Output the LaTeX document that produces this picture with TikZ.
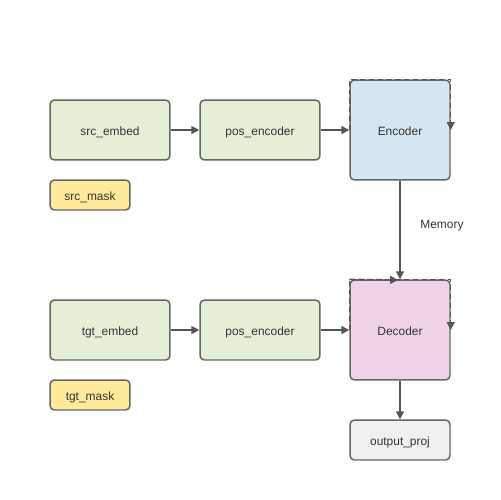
\documentclass[tikz,border=0pt]{standalone}
\usepackage{fontspec}
\setmainfont{Liberation Sans}
\usetikzlibrary{arrows.meta}
\definecolor{boxgreen}{RGB}{228,239,213}
\definecolor{boxyellow}{RGB}{255,234,155}
\definecolor{boxblue}{RGB}{213,230,242}
\definecolor{boxpink}{RGB}{241,211,231}
\definecolor{boxgray}{RGB}{240,240,240}
\definecolor{edgegray}{RGB}{102,102,102}
\definecolor{linegray}{RGB}{85,85,85}
\definecolor{textgray}{RGB}{51,51,51}
\tikzset{
  box/.style={
    draw=edgegray,
    line width=0.85pt,
    rounded corners=2.5pt,
    text=textgray,
    font=\fontsize{6.8}{8}\selectfont,
    text height=1.25ex,
    text depth=0pt,
    inner sep=0pt
  },
  box-layer/.style={box, fill=boxgreen, minimum width=2.4cm, minimum height=1.2cm},
  box-mask/.style={box, fill=boxyellow, minimum width=1.6cm, minimum height=0.6cm},
  box-enc/.style={box, fill=boxblue, minimum width=2cm, minimum height=2cm},
  box-dec/.style={box, fill=boxpink, minimum width=2cm, minimum height=2cm},
  box-out/.style={box, fill=boxgray, minimum width=2cm, minimum height=0.8cm},
  flow/.style={
    draw=linegray,
    line width=0.85pt,
    -{Triangle[length=4.5pt,width=4.5pt]}
  },
  loop-edge/.style={flow, dashed, dash pattern=on 3pt off 2pt},
  edge-label/.style={text=textgray, font=\fontsize{6.8}{8}\selectfont, inner sep=0pt}
}

\begin{document}
\begin{tikzpicture}[x=0.02cm,y=-0.02cm]
  \useasboundingbox (0,0) rectangle (500,500);
  % source branch
  \node[box-layer] (src-embed) at (110,130) {src\_embed};
  \node[box-layer] (src-pos) at (260,130) {pos\_encoder};
  \node[box-enc] (enc) at (400,130) {Encoder};
  \node[box-mask] (src-mask) at (90,195) {src\_mask};
  % target branch
  \node[box-layer] (tgt-embed) at (110,330) {tgt\_embed};
  \node[box-layer] (tgt-pos) at (260,330) {pos\_encoder};
  \node[box-dec] (dec) at (400,330) {Decoder};
  \node[box-mask] (tgt-mask) at (90,395) {tgt\_mask};
  \node[box-out] (out-proj) at (400,440) {output\_proj};
  % connectors
  \draw[flow] (src-embed) -- (src-pos);
  \draw[flow] (src-pos) -- (enc);
  \draw[flow] (tgt-embed) -- (tgt-pos);
  \draw[flow] (tgt-pos) -- (dec);
  \draw[flow] (enc) -- (dec);
  \node[edge-label, anchor=west] (mem-label) at (420,226) {Memory};
  \draw[flow] (dec) -- (out-proj);
  % self loops
  \draw[loop-edge] (enc.west) |- (enc.north) -| (enc.east);
  \draw[loop-edge] (dec.west) |- (dec.north) -| (dec.east);
  \coordinate (dec-top) at (398,280);
  \draw[loop-edge] (dec.north west) -- (dec-top);
\end{tikzpicture}
\end{document}
